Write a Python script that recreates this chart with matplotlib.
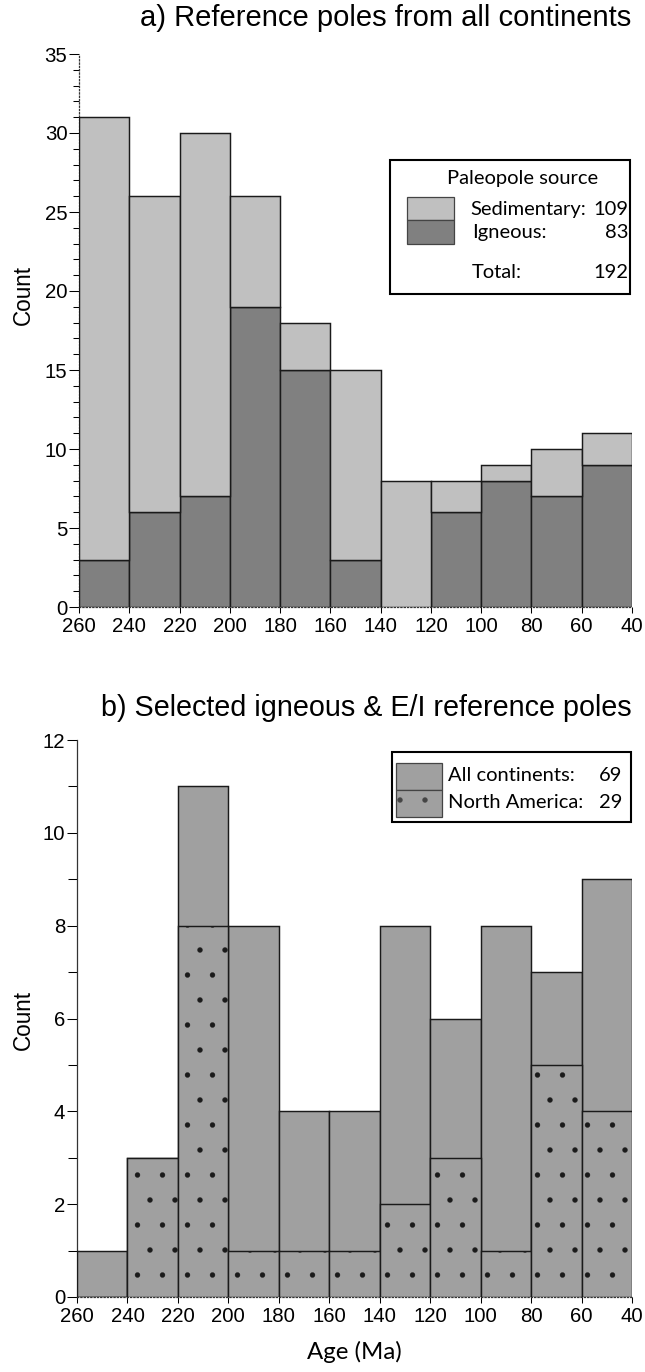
import numpy as np
import matplotlib
matplotlib.use("Agg")
import matplotlib.pyplot as plt
from matplotlib.patches import Rectangle
from matplotlib.ticker import MultipleLocator

# Tranches d'age de 20 Ma (bord le plus ancien de chaque tranche)
bin_start = [260, 240, 220, 200, 180, 160, 140, 120, 100, 80, 60]
bin_width = 20
age_ticks = [260, 240, 220, 200, 180, 160, 140, 120, 100, 80, 60, 40]

# a) poles de reference, tous continents
igneous = [3, 6, 7, 19, 15, 3, 0, 6, 8, 7, 9]
sedimentary = [28, 20, 23, 7, 3, 12, 8, 2, 1, 3, 2]

# b) poles ignes & E/I selectionnes
all_continents = [1, 3, 11, 8, 4, 4, 8, 6, 8, 7, 9]
north_america = [0, 3, 8, 1, 1, 1, 2, 3, 1, 5, 4]

light = "#c0c0c0"
dark = "#808080"
mid = "#a0a0a0"
edge = "#1a1a1a"

plt.rcParams['font.family'] = ['Liberation Sans', 'DejaVu Sans']
plt.rcParams['hatch.linewidth'] = 0.15
legend_font = ['Lato', 'DejaVu Sans']

DPI = 150
fig = plt.figure(figsize=(645 / DPI, 1372 / DPI), dpi=DPI)

ax_a = fig.add_axes([79 / 645, 1 - 607 / 1372, 553 / 645, 553 / 1372])
ax_b = fig.add_axes([77 / 645, 1 - 1297 / 1372, 555 / 645, 557 / 1372])


def style_axes(ax, ymax, major, minor, minor_len, left_style):
    ax.set_xlim(260, 40)
    ax.set_ylim(0, ymax)
    ax.set_xticks(age_ticks)
    ax.yaxis.set_major_locator(MultipleLocator(major))
    ax.yaxis.set_minor_locator(MultipleLocator(minor))
    for s in ['top', 'right']:
        ax.spines[s].set_visible(False)
    ax.spines['left'].set_linestyle(left_style)
    ax.spines['bottom'].set_linestyle(':')
    for s in ['left', 'bottom']:
        ax.spines[s].set_linewidth(0.6)
        ax.spines[s].set_color('#333333')
    ax.tick_params(axis='y', which='major', direction='out', length=4.6, width=0.5,
                   pad=1, labelsize=9.8)
    ax.tick_params(axis='y', which='minor', direction='out', length=minor_len, width=0.5)
    ax.tick_params(axis='x', which='major', direction='out', length=2.8, width=0.5,
                   pad=2, labelsize=9.8)
    ax.set_ylabel('Count', fontsize=10.8)


# ---- a) ----
ax_a.bar(bin_start, igneous, width=-bin_width, align='edge', color=dark,
         edgecolor=edge, linewidth=0.7, zorder=3)
ax_a.bar(bin_start, sedimentary, width=-bin_width, align='edge', bottom=igneous,
         color=light, edgecolor=edge, linewidth=0.7, zorder=3)
style_axes(ax_a, 35, 5, 1, 2.8, ':')
ax_a.yaxis.set_label_coords(-0.08, 0.564)

# legende a)
ta = ax_a.transAxes
ax_a.add_patch(Rectangle((0.562, 0.566), 0.434, 0.242, transform=ta, fill=False,
                         edgecolor='black', linewidth=1.0, zorder=5, clip_on=False))
ax_a.add_patch(Rectangle((0.593, 0.700), 0.085, 0.041, transform=ta, facecolor=light,
                         edgecolor='#444444', linewidth=0.6, zorder=5))
ax_a.add_patch(Rectangle((0.593, 0.656), 0.085, 0.044, transform=ta, facecolor=dark,
                         edgecolor='#444444', linewidth=0.6, zorder=5))
lkw = dict(transform=ta, fontsize=9.7, family=legend_font, va='center', zorder=6)
ax_a.text(0.803, 0.774, 'Paleopole source', ha='center', **lkw)
ax_a.text(0.708, 0.718, 'Sedimentary:', ha='left', **lkw)
ax_a.text(0.993, 0.718, str(sum(sedimentary)), ha='right', **lkw)
ax_a.text(0.711, 0.678, 'Igneous:', ha='left', **lkw)
ax_a.text(0.993, 0.678, str(sum(igneous)), ha='right', **lkw)
ax_a.text(0.711, 0.604, 'Total:', ha='left', **lkw)
ax_a.text(0.993, 0.604, str(sum(igneous) + sum(sedimentary)), ha='right', **lkw)

# ---- b) ----
ax_b.bar(bin_start, all_continents, width=-bin_width, align='edge', color=mid,
         edgecolor=edge, linewidth=0.7, zorder=3)
ax_b.bar(bin_start, north_america, width=-bin_width, align='edge', color=mid,
         edgecolor=edge, linewidth=0.7, hatch='.', zorder=4)
style_axes(ax_b, 12, 2, 1, 4.3, '-')
ax_b.yaxis.set_label_coords(-0.076, 0.497)

# legende b)
tb = ax_b.transAxes
ax_b.add_patch(Rectangle((0.568, 0.853), 0.430, 0.125, transform=tb, fill=False,
                         edgecolor='black', linewidth=1.0, zorder=5, clip_on=False))
ax_b.add_patch(Rectangle((0.575, 0.910), 0.083, 0.049, transform=tb, facecolor=mid,
                         edgecolor='#444444', linewidth=0.6, zorder=5))
ax_b.add_patch(Rectangle((0.575, 0.862), 0.083, 0.048, transform=tb, facecolor=mid,
                         edgecolor='#444444', linewidth=0.6, hatch='.', zorder=5))
lkw = dict(transform=tb, fontsize=9.7, family=legend_font, va='center', zorder=6)
ax_b.text(0.668, 0.937, 'All continents:', ha='left', **lkw)
ax_b.text(0.982, 0.937, str(sum(all_continents)), ha='right', **lkw)
ax_b.text(0.668, 0.887, 'North America:', ha='left', **lkw)
ax_b.text(0.982, 0.887, str(sum(north_america)), ha='right', **lkw)

# titres
fig.text(631 / 645, 1 - 18 / 1372, 'a) Reference poles from all continents',
         ha='right', va='center', fontsize=14)
fig.text(632 / 645, 1 - 708 / 1372, 'b) Selected igneous & E/I reference poles',
         ha='right', va='center', fontsize=13.8)
fig.text(354 / 645, 1 - 1352 / 1372, 'Age (Ma)', ha='center', va='center',
         fontsize=11.5, family=legend_font)

fig.savefig('out.png', dpi=DPI)
